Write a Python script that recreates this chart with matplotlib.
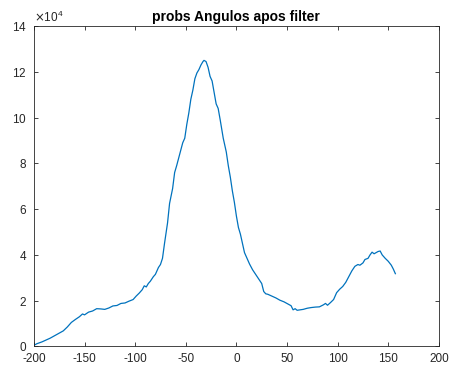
import numpy as np
import matplotlib.pyplot as plt

# angle (deg) vs probability, y read in units of 1e4
ang = [-200, -197, -192, -188, -184, -180, -175, -171, -167, -163, -159, -155,
       -152, -150, -146, -142, -138, -134, -130, -126, -122, -118, -114, -110,
       -106, -102, -99, -96, -93, -91, -89, -87, -85, -82, -80, -77, -75, -73,
       -71, -68, -66, -63, -61, -59, -56, -53, -51, -49, -47, -45, -43, -41,
       -39, -37, -35, -33, -32, -30, -28, -26, -24, -22, -20, -18, -16, -13,
       -10, -8, -6, -4, -2, 0, 2, 4, 6, 8, 10, 13, 16, 19, 22, 25, 27, 29, 31,
       35, 39, 43, 47, 51, 54, 56, 58, 60, 63, 66, 70, 74, 78, 82, 86, 88, 90,
       93, 96, 99, 102, 105, 108, 111, 114, 117, 120, 122, 125, 127, 130, 132,
       134, 136, 138, 140, 142, 144, 147, 150, 153, 155, 157]
prob = [0.05, 0.12, 0.2, 0.28, 0.36, 0.46, 0.58, 0.68, 0.85, 1.05, 1.18, 1.3,
        1.42, 1.38, 1.5, 1.55, 1.65, 1.64, 1.62, 1.68, 1.77, 1.79, 1.88, 1.9,
        1.98, 2.05, 2.2, 2.33, 2.48, 2.65, 2.6, 2.75, 2.85, 3.05, 3.15, 3.45,
        3.58, 3.85, 4.5, 5.4, 6.25, 6.9, 7.6, 7.9, 8.4, 8.9, 9.1, 9.7, 10.2,
        10.8, 11.2, 11.7, 11.95, 12.1, 12.3, 12.45, 12.5, 12.45, 12.2, 11.8,
        11.6, 11.1, 10.6, 10.4, 9.9, 9.1, 8.5, 7.9, 7.4, 6.8, 6.3, 5.7, 5.2,
        4.9, 4.5, 4.1, 3.9, 3.6, 3.35, 3.15, 2.95, 2.75, 2.4, 2.3, 2.28, 2.2,
        2.12, 2.02, 1.95, 1.85, 1.78, 1.6, 1.65, 1.58, 1.6, 1.62, 1.67, 1.7,
        1.72, 1.73, 1.82, 1.88, 1.8, 1.92, 2.05, 2.35, 2.5, 2.62, 2.8, 3.05,
        3.3, 3.5, 3.58, 3.55, 3.65, 3.8, 3.85, 4.0, 4.12, 4.05, 4.1, 4.15,
        4.17, 4.0, 3.85, 3.72, 3.55, 3.38, 3.18]

ang = np.array(ang)
prob = np.array(prob) * 1e4

plt.rcParams['font.family'] = ['Liberation Sans', 'DejaVu Sans']
plt.rcParams['axes.unicode_minus'] = False

fig = plt.figure(figsize=(4.52, 3.67), dpi=100)
ax = fig.add_axes([0.075, 0.056, 0.896, 0.873])

ax.plot(ang, prob, color='#0072BD', linewidth=0.9)

ax.set_xlim(-200, 200)
ax.set_ylim(0, 14e4)
ax.set_xticks(np.arange(-200, 201, 50))
ax.set_yticks(np.arange(0, 14.1e4, 2e4))
ax.ticklabel_format(axis='y', style='sci', scilimits=(4, 4), useMathText=True)

ax.tick_params(direction='in', top=True, right=True, length=3, width=0.6,
               labelsize=8.5, colors='#262626')
ax.tick_params(axis='x', pad=5)
ax.tick_params(axis='y', pad=5)
for s in ax.spines.values():
    s.set_linewidth(0.6)
    s.set_color('#262626')
ax.yaxis.get_offset_text().set_fontsize(8.5)
ax.yaxis.get_offset_text().set_color('#262626')

ax.set_title('probs Angulos apos filter', fontsize=10, fontweight='bold', pad=4)

plt.savefig('out.png')
plt.close(fig)
